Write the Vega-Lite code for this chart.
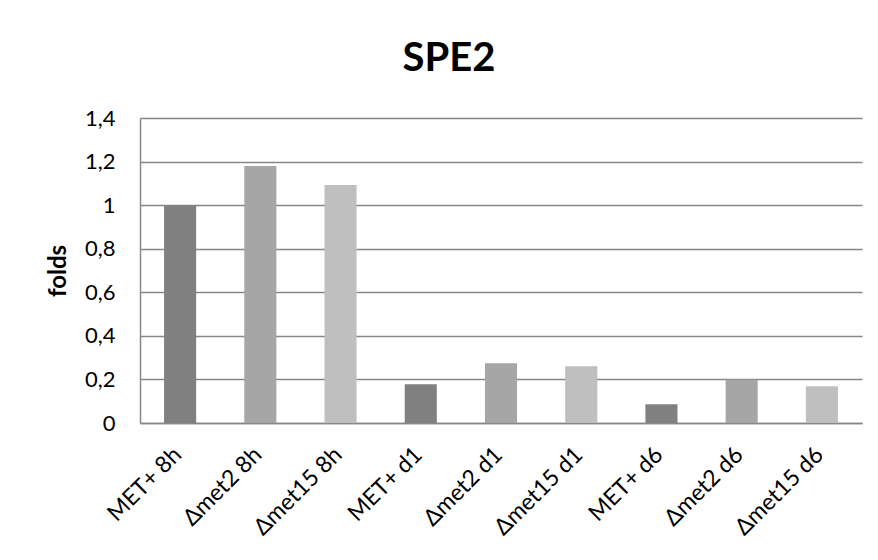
{
  "$schema": "https://vega.github.io/schema/vega-lite/v6.json",
  "autosize": {"type": "none"},
  "width": 722,
  "height": 305,
  "padding": {"left": 140, "top": 118, "right": 16, "bottom": 137},
  "background": "white",
  "data": {"values": [
    {"sample": "MET+ 8h", "folds": 1.0, "group": "MET+"},
    {"sample": "Δmet2 8h", "folds": 1.18, "group": "Δmet2"},
    {"sample": "Δmet15 8h", "folds": 1.092, "group": "Δmet15"},
    {"sample": "MET+ d1", "folds": 0.178, "group": "MET+"},
    {"sample": "Δmet2 d1", "folds": 0.274, "group": "Δmet2"},
    {"sample": "Δmet15 d1", "folds": 0.26, "group": "Δmet15"},
    {"sample": "MET+ d6", "folds": 0.086, "group": "MET+"},
    {"sample": "Δmet2 d6", "folds": 0.198, "group": "Δmet2"},
    {"sample": "Δmet15 d6", "folds": 0.169, "group": "Δmet15"}
  ]},
  "title": {
    "text": "SPE2",
    "font": "Lato",
    "fontSize": 40,
    "fontWeight": "bold",
    "color": "black",
    "anchor": "middle",
    "dx": -52,
    "baseline": "alphabetic",
    "offset": -4
  },
  "mark": {"type": "bar"},
  "encoding": {
    "x": {
      "field": "sample",
      "type": "nominal",
      "sort": null,
      "scale": {"paddingInner": 0.6, "paddingOuter": 0.3},
      "axis": {
        "title": null,
        "labelAngle": -45,
        "labelFont": "Lato",
        "labelFontSize": 23,
        "labelColor": "black",
        "ticks": false,
        "labelPadding": 20,
        "labelOffset": -10,
        "domainColor": "#878787",
        "domainWidth": 1.5
      }
    },
    "y": {
      "field": "folds",
      "type": "quantitative",
      "scale": {"domain": [0, 1.4]},
      "axis": {
        "title": "folds",
        "titleFont": "Lato",
        "titleFontSize": 24,
        "titleFontWeight": "bold",
        "titleColor": "black",
        "titlePadding": 14,
        "values": [0, 0.2, 0.4, 0.6, 0.8, 1, 1.2, 1.4],
        "labelExpr": "replace(format(datum.value, '~g'), '.', ',')",
        "labelFont": "Lato",
        "labelFontSize": 22,
        "labelColor": "black",
        "ticks": false,
        "labelPadding": 25,
        "domainColor": "#878787",
        "domainWidth": 1.5,
        "grid": true,
        "gridColor": "#878787",
        "gridWidth": 1.5
      }
    },
    "color": {
      "field": "group",
      "type": "nominal",
      "scale": {"domain": ["MET+", "Δmet2", "Δmet15"], "range": ["#808080", "#a6a6a6", "#bfbfbf"]},
      "legend": null
    }
  },
  "config": {
    "view": {"stroke": null}
  }
}
